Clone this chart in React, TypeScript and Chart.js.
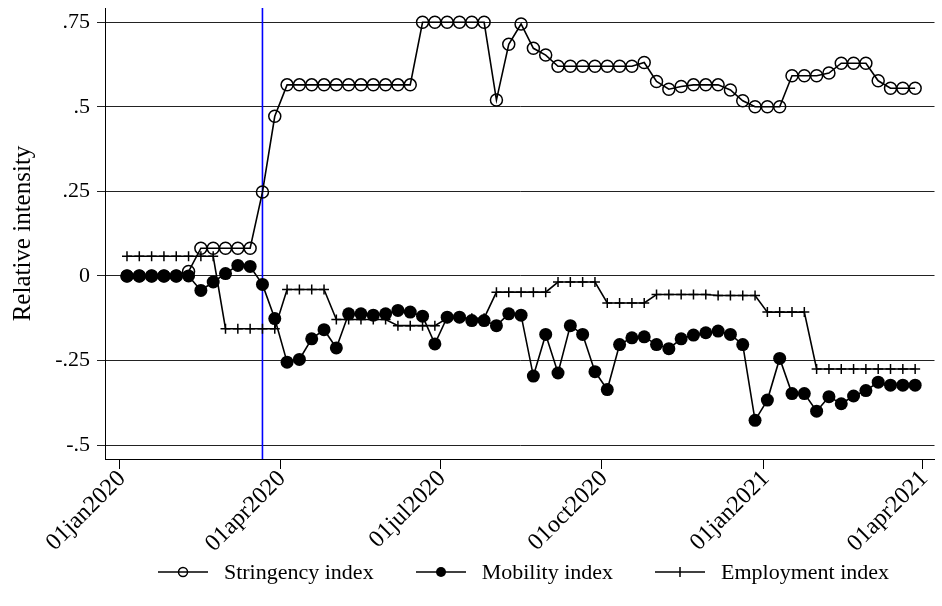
import React, { useEffect, useRef } from 'react';
import { Chart, registerables } from 'chart.js';

Chart.register(...registerables);

// Weekly observation dates
const WEEKS = [
  '2020-01-05', '2020-01-12', '2020-01-19', '2020-01-26', '2020-02-02', '2020-02-09', '2020-02-16', '2020-02-23',
  '2020-03-01', '2020-03-08', '2020-03-15', '2020-03-22', '2020-03-29', '2020-04-05', '2020-04-12', '2020-04-19',
  '2020-04-26', '2020-05-03', '2020-05-10', '2020-05-17', '2020-05-24', '2020-05-31', '2020-06-07', '2020-06-14',
  '2020-06-21', '2020-06-28', '2020-07-05', '2020-07-12', '2020-07-19', '2020-07-26', '2020-08-02', '2020-08-09',
  '2020-08-16', '2020-08-23', '2020-08-30', '2020-09-06', '2020-09-13', '2020-09-20', '2020-09-27', '2020-10-04',
  '2020-10-11', '2020-10-18', '2020-10-25', '2020-11-01', '2020-11-08', '2020-11-15', '2020-11-22', '2020-11-29',
  '2020-12-06', '2020-12-13', '2020-12-20', '2020-12-27', '2021-01-03', '2021-01-10', '2021-01-17', '2021-01-24',
  '2021-01-31', '2021-02-07', '2021-02-14', '2021-02-21', '2021-02-28', '2021-03-07', '2021-03-14', '2021-03-21',
  '2021-03-28',
];

const STRINGENCY = [
  0, 0, 0, 0, 0, 0.013, 0.082, 0.082, 0.082, 0.082, 0.082, 0.248, 0.472,
  0.565, 0.565, 0.565, 0.565, 0.565, 0.565, 0.565, 0.565, 0.565, 0.565, 0.565,
  0.75, 0.75, 0.75, 0.75, 0.75, 0.75,
  0.52, 0.685, 0.745, 0.673, 0.653,
  0.62, 0.62, 0.62, 0.62, 0.62, 0.62, 0.62,
  0.631, 0.575, 0.552, 0.56, 0.565, 0.565, 0.565, 0.55, 0.518, 0.5, 0.5, 0.5,
  0.592, 0.592, 0.592, 0.6, 0.629, 0.629, 0.629, 0.577, 0.555, 0.555, 0.555,
];

const MOBILITY = [
  0, 0, 0, 0, 0, 0, -0.043, -0.018, 0.007, 0.031, 0.028, -0.025, -0.126,
  -0.255, -0.247, -0.186, -0.159, -0.213, -0.112, -0.112, -0.116, -0.112, -0.102, -0.107,
  -0.119, -0.201, -0.122, -0.122, -0.132, -0.132,
  -0.147, -0.112, -0.116, -0.296, -0.173,
  -0.287, -0.147, -0.173, -0.283, -0.336, -0.203, -0.183,
  -0.18, -0.203, -0.215, -0.186, -0.175, -0.168, -0.163, -0.173, -0.203, -0.427, -0.367, -0.244,
  -0.348, -0.348, -0.4, -0.357, -0.378, -0.355, -0.339, -0.314, -0.323, -0.323, -0.323,
];

const EMPLOYMENT = [
  0.058, 0.058, 0.058, 0.058, 0.058, 0.058, 0.058, 0.058,
  -0.156, -0.156, -0.156, -0.156, -0.156,
  -0.04, -0.04, -0.04, -0.04,
  -0.129, -0.129, -0.129, -0.129, -0.129,
  -0.147, -0.147, -0.147, -0.147,
  -0.125, -0.125, -0.125, -0.125,
  -0.048, -0.048, -0.048, -0.048, -0.048,
  -0.018, -0.018, -0.018, -0.018,
  -0.08, -0.08, -0.08, -0.08,
  -0.055, -0.055, -0.055, -0.055, -0.055, -0.058, -0.058, -0.058, -0.058,
  -0.107, -0.107, -0.107, -0.107,
  -0.275, -0.275, -0.275, -0.275, -0.275, -0.275, -0.275, -0.275, -0.275,
];

const SERIES_LABELS = ['Stringency index', 'Mobility index', 'Employment index'];
const SERIES_MARKERS = ['open', 'filled', 'plus'];

const X_TICK_DATES = ['2020-01-01', '2020-04-01', '2020-07-01', '2020-10-01', '2021-01-01', '2021-04-01'];
const X_TICK_LABELS = ['01jan2020', '01apr2020', '01jul2020', '01oct2020', '01jan2021', '01apr2021'];
const Y_TICKS = [-0.5, -0.25, 0, 0.25, 0.5, 0.75];
const Y_TICK_LABELS = ['-.5', '-.25', '0', '.25', '.5', '.75'];
const Y_TITLE = 'Relative intensity';
const LOCKDOWN_DATE = '2020-03-22';
const X_RANGE_DAYS = [-8.5, 463];
const Y_RANGE = [-0.5413, 0.7922];

const FONT = "'Liberation Serif', 'Times New Roman', serif";

const ORIGIN = Date.UTC(2020, 0, 1);
function dayOf(s: string): number {
  const [y, m, d] = s.split('-').map(Number);
  return (Date.UTC(y, m - 1, d) - ORIGIN) / 86400000;
}

const lockdownLine = {
  id: 'lockdownLine',
  beforeDatasetsDraw(chart: any) {
    const { ctx, chartArea, scales } = chart;
    const px = scales.x.getPixelForValue(dayOf(LOCKDOWN_DATE));
    ctx.save();
    ctx.strokeStyle = '#0000ff';
    ctx.lineWidth = 1.6;
    ctx.beginPath();
    ctx.moveTo(px, chartArea.top);
    ctx.lineTo(px, chartArea.bottom);
    ctx.stroke();
    ctx.restore();
  },
};

function LegendSample({ kind }: { kind: string }) {
  return (
    <svg width={50} height={16} style={{ display: 'block', flex: '0 0 auto' }}>
      <line x1={0} y1={8} x2={50} y2={8} stroke="#000" strokeWidth={1.6} />
      {kind === 'open' && <circle cx={25} cy={8} r={4.5} fill="none" stroke="#000" strokeWidth={1.5} />}
      {kind === 'filled' && <circle cx={25} cy={8} r={5} fill="#000" />}
      {kind === 'plus' && <line x1={25} y1={3} x2={25} y2={13} stroke="#000" strokeWidth={1.5} />}
    </svg>
  );
}

export default function App() {
  const ref = useRef<HTMLCanvasElement | null>(null);

  useEffect(() => {
    if (!ref.current) return;
    const toPoints = (vals: number[]) => WEEKS.map((d, i) => ({ x: dayOf(d), y: vals[i] }));
    const xTickDays = X_TICK_DATES.map(dayOf);

    const chart = new Chart(ref.current, {
      type: 'line',
      data: {
        datasets: [
          {
            label: SERIES_LABELS[0],
            data: toPoints(STRINGENCY),
            borderColor: '#000',
            borderWidth: 1.6,
            pointStyle: 'circle',
            pointRadius: 6,
            pointBorderWidth: 1.5,
            pointBorderColor: '#000',
            pointBackgroundColor: 'rgba(0,0,0,0)',
            tension: 0,
          },
          {
            label: SERIES_LABELS[1],
            data: toPoints(MOBILITY),
            borderColor: '#000',
            borderWidth: 1.6,
            pointStyle: 'circle',
            pointRadius: 6.5,
            pointBorderWidth: 0,
            pointBackgroundColor: '#000',
            tension: 0,
          },
          {
            label: SERIES_LABELS[2],
            data: toPoints(EMPLOYMENT),
            borderColor: '#000',
            borderWidth: 1.6,
            pointStyle: 'cross',
            pointRadius: 5,
            pointBorderWidth: 1.5,
            pointBorderColor: '#000',
            tension: 0,
          },
        ],
      },
      options: {
        animation: false,
        responsive: true,
        maintainAspectRatio: false,
        layout: { padding: { top: 8, right: 0, left: 0, bottom: 0 } },
        plugins: {
          tooltip: { enabled: false },
          legend: { display: false },
        },
        scales: {
          x: {
            type: 'linear',
            min: X_RANGE_DAYS[0],
            max: X_RANGE_DAYS[1],
            afterBuildTicks: (s: any) => {
              s.ticks = xTickDays.map((v) => ({ value: v }));
            },
            afterFit: (s: any) => {
              s.height = 147;
              s.paddingLeft = 0;
              s.paddingRight = 0;
            },
            ticks: {
              autoSkip: false,
              minRotation: 45,
              maxRotation: 45,
              padding: -4,
              labelOffset: 2,
              color: '#000',
              font: { family: FONT, size: 24 },
              callback: (_v: any, i: number) => X_TICK_LABELS[i],
            },
            grid: { drawOnChartArea: false, drawTicks: true, tickLength: 10, color: '#000', lineWidth: 1 },
            border: { display: true, color: '#000', width: 1 },
          },
          y: {
            type: 'linear',
            min: Y_RANGE[0],
            max: Y_RANGE[1],
            afterBuildTicks: (s: any) => {
              s.ticks = Y_TICKS.map((v) => ({ value: v }));
            },
            afterFit: (s: any) => {
              s.width = 105;
              s.paddingTop = 0;
              s.paddingBottom = 0;
            },
            ticks: {
              padding: 7,
              color: '#000',
              font: { family: FONT, size: 22 },
              callback: (_v: any, i: number) => Y_TICK_LABELS[i],
            },
            grid: { color: '#222', lineWidth: 1, tickLength: 8, drawTicks: true },
            border: { display: true, color: '#000', width: 1 },
            title: {
              display: true,
              text: Y_TITLE,
              color: '#000',
              font: { family: FONT, size: 25 },
              padding: { top: 8, bottom: 0 },
            },
          },
        },
      },
      plugins: [lockdownLine],
    });
    return () => chart.destroy();
  }, []);

  return (
    <div style={{ position: 'fixed', left: 0, top: 0, width: 942, height: 606, background: '#fff' }}>
      <canvas ref={ref} />
      <div
        style={{
          position: 'absolute',
          left: 105,
          width: 837,
          top: 558,
          height: 28,
          display: 'flex',
          justifyContent: 'center',
          alignItems: 'center',
          gap: 42,
          fontFamily: FONT,
          fontSize: 22,
          lineHeight: '28px',
          color: '#000',
          whiteSpace: 'nowrap',
        }}
      >
        {SERIES_LABELS.map((label, i) => (
          <div key={label} style={{ display: 'flex', alignItems: 'center' }}>
            <LegendSample kind={SERIES_MARKERS[i]} />
            <span style={{ marginLeft: 16 }}>{label}</span>
          </div>
        ))}
      </div>
    </div>
  );
}
